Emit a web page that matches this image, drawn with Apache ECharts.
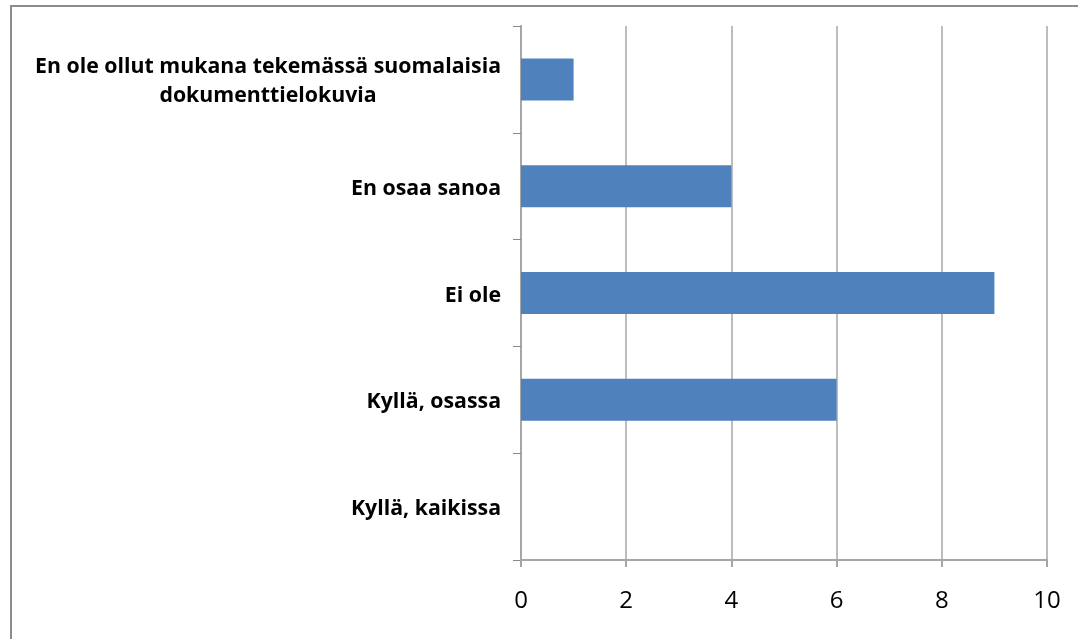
<!DOCTYPE html>
<html>
<head>
<meta charset="utf-8">
<script src="https://cdn.jsdelivr.net/npm/echarts@6/dist/echarts.min.js"></script>
<style>
html,body{margin:0;padding:0;background:#fff;}
#c{width:1078px;height:639px;}
</style>
</head>
<body>
<div id="c"></div>
<script>
var categories = ['Kyllä, kaikissa', 'Kyllä, osassa', 'Ei ole', 'En osaa sanoa', 'En ole ollut mukana tekemässä suomalaisia\ndokumenttielokuvia'];
var values = [0, 6, 9, 4, 1];
var xTicks = [0, 2, 4, 6, 8, 10];

var chart = echarts.init(document.getElementById('c'), null, {renderer: 'canvas'});
chart.setOption({
  animation: false,
  backgroundColor: '#ffffff',
  graphic: [{
    type: 'rect',
    shape: {x: 11, y: 6, width: 1100, height: 700},
    style: {fill: 'none', stroke: '#8c8c8c', lineWidth: 2},
    silent: true
  }],
  grid: {left: 521, right: 31, top: 26, bottom: 79, containLabel: false},
  xAxis: {
    type: 'value',
    min: xTicks[0],
    max: xTicks[xTicks.length - 1],
    interval: 2,
    axisLine: {show: true, lineStyle: {color: '#a6a6a6', width: 2}},
    axisTick: {show: true, length: 7, lineStyle: {color: '#a6a6a6', width: 2}},
    splitLine: {show: true, lineStyle: {color: '#bdbdbd', width: 2}},
    axisLabel: {color: '#000', fontFamily: 'Open Sans', fontSize: 24, margin: 29}
  },
  yAxis: {
    type: 'category',
    data: categories,
    axisLine: {show: true, lineStyle: {color: '#a6a6a6', width: 2}},
    axisTick: {show: true, length: 8, lineStyle: {color: '#888888', width: 1}},
    axisLabel: {
      margin: 20,
      padding: [5, 0, 0, 0],
      formatter: function (v) {
        return v.split('\n').map(function (s) { return '{c|' + s + '}'; }).join('\n');
      },
      rich: {
        c: {align: 'center', fontFamily: 'Open Sans', fontWeight: 'bold', fontSize: 21.3, lineHeight: 29, color: '#000'}
      }
    }
  },
  series: [{
    type: 'bar',
    data: values,
    barWidth: 42,
    itemStyle: {color: '#4f81bd'}
  }]
});
</script>
</body>
</html>
